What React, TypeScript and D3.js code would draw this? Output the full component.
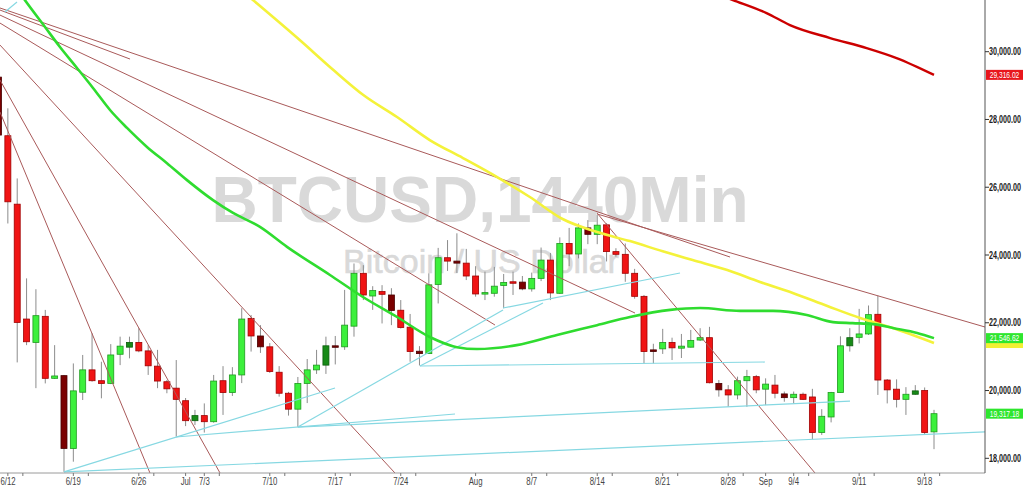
import React from "react";
import * as d3 from "d3";

const W = 1024;
const H = 488;
const PLOT_R = 985;
const PLOT_B = 473;

const candleDates = [
  "2022-06-11","2022-06-12","2022-06-13","2022-06-14","2022-06-15","2022-06-16","2022-06-17","2022-06-18","2022-06-19","2022-06-20",
  "2022-06-21","2022-06-22","2022-06-23","2022-06-24","2022-06-25","2022-06-26","2022-06-27","2022-06-28","2022-06-29","2022-06-30",
  "2022-07-01","2022-07-02","2022-07-03","2022-07-04","2022-07-05","2022-07-06","2022-07-07","2022-07-08","2022-07-09","2022-07-10",
  "2022-07-11","2022-07-12","2022-07-13","2022-07-14","2022-07-15","2022-07-16","2022-07-17","2022-07-18","2022-07-19","2022-07-20",
  "2022-07-21","2022-07-22","2022-07-23","2022-07-24","2022-07-25","2022-07-26","2022-07-27","2022-07-28","2022-07-29","2022-07-30",
  "2022-07-31","2022-08-01","2022-08-02","2022-08-03","2022-08-04","2022-08-05","2022-08-06","2022-08-07","2022-08-08","2022-08-09",
  "2022-08-10","2022-08-11","2022-08-12","2022-08-13","2022-08-14","2022-08-15","2022-08-16","2022-08-17","2022-08-18","2022-08-19",
  "2022-08-20","2022-08-21","2022-08-22","2022-08-23","2022-08-24","2022-08-25","2022-08-26","2022-08-27","2022-08-28","2022-08-29",
  "2022-08-30","2022-08-31","2022-09-01","2022-09-02","2022-09-03","2022-09-04","2022-09-05","2022-09-06","2022-09-07","2022-09-08",
  "2022-09-09","2022-09-10","2022-09-11","2022-09-12","2022-09-13","2022-09-14","2022-09-15","2022-09-16","2022-09-17","2022-09-18",
  "2022-09-19",
];

const opens = [
  29250,27520,25500,22110,21420,22190,20360,20440,18290,19950,
  20610,20290,20210,21070,21280,21420,21170,20720,20260,20070,
  19700,19110,19260,19080,20290,19940,20460,22130,21610,21290,
  20540,19920,19450,20210,20610,20750,21320,21290,21900,23460,
  22790,22920,22820,22370,21870,21160,21090,23130,23920,23820,
  23760,23380,22850,22870,23100,23210,23200,23000,23310,23850,
  22870,24340,24030,24800,24610,24890,24100,24020,23460,22780,
  21200,21230,21420,21250,21280,21490,21560,20210,20020,19870,
  20290,20410,20040,20160,19900,19790,19890,19810,18760,19220,
  19940,21320,21570,21670,22250,20310,20040,19740,19890,20000,
  18780,
];
const highs = [
  29310,28330,26260,23310,22990,22380,21340,20460,20800,21050,
  21690,20850,21370,21590,21590,21840,21340,21200,20310,20900,
  19780,19430,19620,20460,20720,20690,22430,22230,21930,21400,
  20720,19960,20400,20930,21200,21590,21610,22970,23750,23700,
  23080,23110,23020,22670,22260,21310,23460,24210,24440,24640,
  24180,23670,23510,23650,23440,23510,23380,23480,24220,24060,
  24520,24800,24930,25030,25180,24940,24200,24340,23590,22820,
  21380,21820,21560,21670,21790,21840,21880,20310,20160,20410,
  20610,20460,20360,20460,19970,19970,19940,20050,19450,19960,
  21600,21840,22410,22510,22800,20340,20330,20100,20160,20090,
  19430,
];
const lows = [
  27480,24930,20830,21340,20070,20210,20340,17600,17900,19720,
  20260,19770,20190,20750,20950,21130,20460,20070,19920,18640,
  18950,18980,18760,19050,19280,19840,20220,21150,21110,20520,
  19820,19260,18920,19630,20490,20490,20770,21200,21590,22670,
  22380,21980,21930,21830,20850,20740,21080,22570,23530,23470,
  23260,22770,22670,22770,22430,22820,22960,22920,23230,22670,
  22850,23670,23900,24320,24320,23810,23950,23210,22710,20800,
  20800,21080,20900,20960,21270,21460,20210,19820,19520,19740,
  19520,19920,19570,19770,19670,19620,19720,18560,18690,19060,
  19930,21150,21390,21640,19870,19620,19500,19280,19870,18690,
  18270,
];
const closes = [
  27540,25570,22010,21440,22210,20360,20430,18290,19990,20610,
  20290,20210,21050,21310,21420,21170,20730,20280,20050,19740,
  19110,19260,19080,20280,19940,20460,22110,21610,21290,20560,
  19920,19450,20210,20610,20750,21320,21280,21930,23460,22820,
  22950,22840,22360,21860,21150,21090,23120,23920,23820,23760,
  23380,22850,22890,23080,23190,23180,23000,23310,23850,22880,
  24340,24030,24800,24610,24880,24100,24020,23460,22780,21150,
  21150,21420,21260,21310,21480,21560,20230,20020,19870,20290,
  20410,20020,20190,19920,19790,19890,19740,18760,19240,19940,
  21320,21560,21670,22240,20310,20020,19740,19890,19990,18760,
  19317.18,
];
// candles drawn in the darker shade
const darkCandles = [0, 7, 14, 21, 28, 35, 36, 42, 45, 49, 56, 63, 70, 77, 84, 91, 98];

// moving averages: day offset from first candle, value
const greenMaDays = [1.76,2.83,4.97,6.57,8.39,10.1,11.92,13.74,15.87,18.01,20.15,22.93,25.07,27.95,30.84,35.43,38.96,42.6,46.1,49.0,51.15,55.4,59.7,63.98,67.5,71.8,75.0,79.26,82.79,86.4,89.2,91.3,93.5,95.6,98.2,100];
const greenMaValues = [31940,31520,30730,30140,29520,28930,28280,27750,27190,26710,26210,25620,25240,24830,24240,23410,22760,22170,21580,21280,21225,21340,21640,21930,22170,22380,22435,22350,22350,22230,22020,21990,21960,21845,21700,21546.62];
const yellowMaDays = [25.8,27.2,32.2,35.8,39.0,42.6,46.1,49.65,53.3,56.8,60.3,64.0,67.5,71.0,74.2,77.9,81.4,84.9,88.6,92.1,95.6,100];
const yellowMaValues = [31850,31524,30344,29459,28721,28072,27393,26862,26301,25711,25062,24678,24410,24110,23852,23557,23202,22878,22494,22140,21845,21402];
const redMaDays = [77.1,78.5,82.1,84.6,88.9,92.8,96.0,100];
const redMaValues = [31670,31524,31141,30787,30403,30108,29813,29316.02];

// trend lines [day0, price0, day1, price1]
const brownLines = [
  [0.16, 31290, 78.2, 23940],
  [64.0, 25209, 107, 21750],
  [0.16, 31229, 14.06, 29783],
  [0.16, 31081, 68.04, 22287],
  [0.16, 30845, 53.07, 21934],
  [0.16, 30196, 42.38, 17566],
  [0.16, 29163, 23.68, 17566],
  [0.16, 28219, 16.19, 17566],
  [63.98, 25238, 87.28, 17566],
];
const cyanLines = [
  [7, 17600, 107, 18800],
  [7, 17600, 35.97, 20074],
  [18.97, 18628, 48.8, 19307],
  [32.0, 18923, 91.02, 19690],
  [32.0, 18923, 53.93, 22376],
  [45.05, 20724, 58.2, 22583],
  [53.93, 22435, 72.85, 23468],
  [45.05, 20724, 81.93, 20842],
  [0.69, 31170, 1.98, 31465],
];

const yTicks = [18000, 20000, 22000, 24000, 26000, 28000, 30000];
const xTickDates = ["2022-06-12","2022-06-19","2022-06-26","2022-07-01","2022-07-03","2022-07-10","2022-07-17","2022-07-24","2022-08-01","2022-08-07","2022-08-14","2022-08-21","2022-08-28","2022-09-01","2022-09-04","2022-09-11","2022-09-18"];
const xTickLabels = ["6/12","6/19","6/26","Jul","7/3","7/10","7/17","7/24","Aug","8/7","8/14","8/21","8/28","Sep","9/4","9/11","9/18"];

const title = "BTCUSD,1440Min";
const subtitle = "Bitcoin / US Dollar";

const DAY = 86400000;
const parseDay = (s: string) => new Date(s + "T00:00:00Z");
const t0 = parseDay(candleDates[0]).getTime();
const atDay = (d: number) => new Date(t0 + d * DAY);

const AXF = "'Liberation Sans', Arial, sans-serif";

export default function App() {
  const x = d3
    .scaleUtc()
    .domain([parseDay(candleDates[0]), parseDay(candleDates[candleDates.length - 1])])
    .range([-1.5, 934]);
  const y = d3.scaleLinear().domain([18000, 30000]).range([458.3, 51.7]);
  const fmt = d3.format(",.2f");

  const maLine = d3
    .line<[number, number]>()
    .x((p) => x(atDay(p[0])))
    .y((p) => y(p[1]))
    .curve(d3.curveMonotoneX);

  const green = greenMaDays.map((d, i) => [d, greenMaValues[i]] as [number, number]);
  const yellow = yellowMaDays.map((d, i) => [d, yellowMaValues[i]] as [number, number]);
  const red = redMaDays.map((d, i) => [d, redMaValues[i]] as [number, number]);

  const bodyW = 6;

  const priceBoxes = [
    { v: yellowMaValues[yellowMaValues.length - 1], fill: "#f2f032", text: "" },
    { v: redMaValues[redMaValues.length - 1], fill: "#e8161c", text: fmt(redMaValues[redMaValues.length - 1]) },
    { v: greenMaValues[greenMaValues.length - 1], fill: "#2ee62e", text: fmt(greenMaValues[greenMaValues.length - 1]) },
    { v: closes[closes.length - 1], fill: "#2ee62e", text: fmt(closes[closes.length - 1]) },
  ];

  return (
    <svg
      width={W}
      height={H}
      style={{ position: "fixed", left: 0, top: 0, background: "#fff" }}
      fontFamily="'Liberation Sans', Arial, sans-serif"
    >
      <defs>
        <clipPath id="plot">
          <rect x={0} y={0} width={PLOT_R} height={PLOT_B} />
        </clipPath>
      </defs>
      <rect x={0} y={0} width={W} height={H} fill="#fff" />

      {/* watermark */}
      <text x={480} y={222} textAnchor="middle" fontSize={64} fontWeight="bold" fill="#d9d9d9">
        {title}
      </text>
      <text x={481} y={273} textAnchor="middle" fontSize={34} fill="#d9d9d9" stroke="#d9d9d9" strokeWidth={0.6}>
        {subtitle}
      </text>

      <g clipPath="url(#plot)">
        {/* candles */}
        {candleDates.map((d, i) => {
          const cx = x(parseDay(d));
          const o = opens[i];
          const c = closes[i];
          const up = c >= o;
          const dark = darkCandles.includes(i);
          const fill = up ? (dark ? "#178a17" : "#3cf03c") : dark ? "#7a0000" : "#f01414";
          const stroke = up ? (dark ? "#0c5c0c" : "#1e9a1e") : dark ? "#480000" : "#a00000";
          const yt = y(Math.max(o, c));
          const yb = y(Math.min(o, c));
          return (
            <g key={d}>
              <line x1={cx} x2={cx} y1={y(highs[i])} y2={y(lows[i])} stroke="#8c8c8c" strokeWidth={1} />
              <rect
                x={cx - bodyW / 2}
                y={yt}
                width={bodyW}
                height={Math.max(1.5, yb - yt)}
                fill={fill}
                stroke={stroke}
                strokeWidth={0.8}
              />
            </g>
          );
        })}

        {/* trend lines */}
        {brownLines.map((l, i) => (
          <line
            key={"b" + i}
            x1={x(atDay(l[0]))}
            y1={y(l[1])}
            x2={x(atDay(l[2]))}
            y2={y(l[3])}
            stroke="#a95a5a"
            strokeWidth={1}
          />
        ))}
        {cyanLines.map((l, i) => (
          <line
            key={"c" + i}
            x1={x(atDay(l[0]))}
            y1={y(l[1])}
            x2={x(atDay(l[2]))}
            y2={y(l[3])}
            stroke="#86d8e2"
            strokeWidth={1.2}
          />
        ))}

        {/* moving averages */}
        <path d={maLine(yellow) || ""} fill="none" stroke="#f4f23a" strokeWidth={2.6} />
        <path d={maLine(green) || ""} fill="none" stroke="#2fdc2f" strokeWidth={2.6} />
        <path d={maLine(red) || ""} fill="none" stroke="#cc0000" strokeWidth={2.4} />
      </g>

      {/* x axis */}
      <line x1={0} x2={PLOT_R} y1={PLOT_B} y2={PLOT_B} stroke="#9a9a9a" strokeWidth={1} />
      {xTickDates.map((d, i) => {
        const tx = x(parseDay(d));
        const weekly = !/^[A-Z]/.test(xTickLabels[i]);
        return (
          <g key={d}>
            <line x1={tx} x2={tx} y1={PLOT_B} y2={PLOT_B + 3} stroke="#777" />
            {weekly && (
              <line x1={tx + 15} x2={tx + 15} y1={PLOT_B} y2={PLOT_B + 3} stroke="#777" />
            )}
            <g transform={`translate(${Math.max(tx, 8)},485) scale(0.78,1)`}>
              <text x={0} y={0} textAnchor="middle" fontSize={10} fill="#444" fontFamily={AXF}>
                {xTickLabels[i]}
              </text>
            </g>
          </g>
        );
      })}

      {/* y axis */}
      <line x1={PLOT_R} x2={PLOT_R} y1={0} y2={PLOT_B} stroke="#555" strokeWidth={1} />
      {yTicks.map((t) => (
        <g key={t}>
          <line x1={PLOT_R} x2={PLOT_R + 4} y1={y(t)} y2={y(t)} stroke="#333" />
          <g transform={`translate(989,${y(t) + 3.6}) scale(0.72,1)`}>
            <text x={0} y={0} fontSize={10} fontWeight="bold" fill="#222" fontFamily={AXF}>
              {fmt(t)}
            </text>
          </g>
        </g>
      ))}

      {/* price boxes */}
      {priceBoxes.map((b, i) => {
        const cy = y(b.v);
        return (
          <g key={"pb" + i}>
            <rect x={986} y={cy - 5} width={37} height={10} fill={b.fill} />
            {b.text && (
              <g transform={`translate(1004.5,${cy + 3.2}) scale(0.74,1)`}>
                <text x={0} y={0} textAnchor="middle" fontSize={9} fill="#fff" fontFamily={AXF}>
                  {b.text}
                </text>
              </g>
            )}
          </g>
        );
      })}
    </svg>
  );
}
